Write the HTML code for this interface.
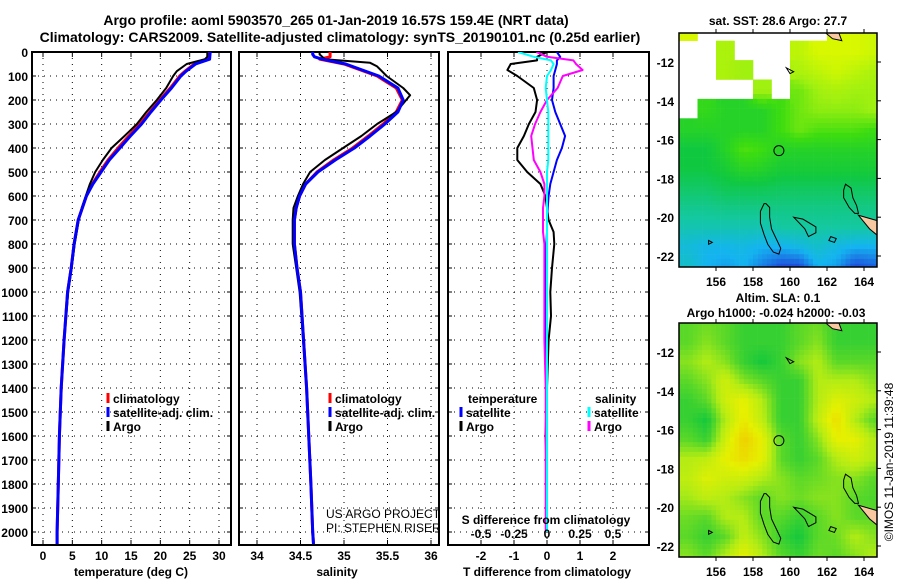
<!DOCTYPE html>
<html><head><meta charset="utf-8">
<style>
body{margin:0;background:#fff;}
svg{display:block;font-family:"Liberation Sans",Arial,sans-serif;}
.b{font-weight:bold;font-size:12px;}
</style></head>
<body>
<svg id="fig" width="900" height="580" viewBox="0 0 900 580" xmlns="http://www.w3.org/2000/svg">
<defs>
<clipPath id="c1"><rect x="32" y="52" width="199" height="493"/></clipPath>
<clipPath id="c2"><rect x="239" y="52" width="200" height="493"/></clipPath>
<clipPath id="c3"><rect x="448" y="52" width="201" height="493"/></clipPath>
<clipPath id="cm1"><rect x="679" y="33" width="198" height="234"/></clipPath>
<clipPath id="cm2"><rect x="679" y="323" width="198" height="234"/></clipPath>
</defs>
<text x="336" y="25" text-anchor="middle" font-weight="bold" font-size="14">Argo profile: aoml 5903570_265 01-Jan-2019 16.57S 159.4E (NRT data)</text>
<text x="340" y="42" text-anchor="middle" font-weight="bold" font-size="14">Climatology: CARS2009. Satellite-adjusted climatology: synTS_20190101.nc (0.25d earlier)</text>
<g id="grid"></g>
<g id="series"></g>
<g id="maps"></g>
<g id="labels"></g>
</svg>
<script>
// ---------- data ----------
const depthTicks=[0,100,200,300,400,500,600,700,800,900,1000,1100,1200,1300,1400,1500,1600,1700,1800,1900,2000];
const tempTicks=[0,5,10,15,20,25,30];
const salTicks=[34,34.5,35,35.5,36];
const salTickLabels=["34","34.5","35","35.5","36"];
const tdiffTicks=[-2,-1,0,1,2];
const sdiffTicks=[-0.5,-0.25,0,0.25,0.5];
const sdiffTickLabels=["-0.5","-0.25","0","0.25","0.5"];

const tClimDepth=[0,30,50,80,100,150,200,250,300,350,400,450,500,550,600,700,800,900,1000,1200,1400,1600,1800,2000,2050];
const tClim=[28.1,28.2,25.8,24.2,23.3,21.7,19.9,18.2,16.5,14.6,12.8,11.1,9.7,8.4,7.4,6.0,5.3,4.8,4.2,3.6,3.1,2.8,2.6,2.4,2.4];
const tSat=[28.5,28.4,26.0,24.4,23.5,21.9,20.1,18.4,16.8,14.9,13.1,11.3,9.9,8.5,7.4,6.0,5.3,4.8,4.2,3.6,3.1,2.8,2.6,2.4,2.4];
const tArgoDepth=[0,20,30,50,80,100,150,200,250,300,350,400,450,500,550,600,650,700,800,900,1000,1200,1400,1600,1800,2000];
const tArgo=[28.0,28.0,27.6,24.5,22.8,22.2,21.0,19.4,17.6,16.0,13.9,11.7,10.2,8.9,8.0,7.3,6.6,6.1,5.4,4.9,4.3,3.6,3.1,2.8,2.6,2.4];

const sClimDepth=[0,10,20,30,50,100,150,200,250,300,350,400,450,500,550,600,650,700,800,900,1000,1400,1800,2000,2050];
const sClim=[34.84,34.84,34.84,34.72,35.0,35.38,35.6,35.67,35.6,35.45,35.28,35.1,34.88,34.69,34.56,34.49,34.45,34.43,34.43,34.46,34.5,34.57,34.62,34.64,34.65];
const sSat=[34.64,34.64,34.66,34.75,35.02,35.4,35.62,35.68,35.62,35.47,35.3,35.12,34.9,34.7,34.56,34.49,34.45,34.43,34.43,34.46,34.5,34.57,34.62,34.64,34.65];
const sArgoDepth=[0,10,30,45,60,100,150,180,250,300,350,400,450,500,550,600,650,700,800,900,1000,1400,1800,2000];
const sArgo=[34.72,34.72,34.78,35.3,35.38,35.49,35.68,35.76,35.6,35.38,35.2,34.99,34.78,34.61,34.53,34.47,34.42,34.41,34.41,34.45,34.49,34.57,34.62,34.64];

const dDepth=[0,20,35,50,75,100,150,200,250,300,350,400,450,500,550,600,650,700,750,800,900,1000,1100,1200,1400,1600,1800,2000];
const dTArgo=[0.0,-0.3,-0.3,-1.1,-1.2,-0.9,-0.4,-0.3,-0.35,-0.55,-0.7,-0.9,-0.9,-0.6,-0.2,-0.05,0.0,0.05,0.2,0.22,0.15,0.1,0.12,0.05,0.0,-0.05,0.0,0.0];
const dTSat=[0.3,0.4,0.3,0.3,0.25,0.2,0.2,0.15,0.25,0.4,0.55,0.45,0.3,0.2,0.1,0.05,0.02,0.0,0.0,-0.02,-0.03,-0.03,-0.03,-0.03,-0.03,-0.03,-0.03,-0.03];
const dSSat=[-0.22,-0.1,0.03,0.05,0.03,0.0,-0.01,0.0,0.01,0.01,0.01,0.01,0.01,0.0,0.0,0.0,0.0,0.0,0.0,0.0,0.0,0.0,0.0,0.0,0.0,0.0,0.0,0.0];
const dSArgo=[-0.08,0.0,0.2,0.22,0.27,0.12,0.08,0.0,-0.05,-0.09,-0.12,-0.11,-0.1,-0.05,-0.02,-0.02,-0.03,-0.03,-0.03,-0.02,-0.02,-0.02,-0.02,-0.02,-0.01,-0.01,-0.01,-0.01];

const M=-1;
const sstGrid=[
[0.8,M,M,M,M,M,M,M,0.8,0.8,0.78],
[M,M,0.72,M,M,M,0.75,0.8,0.8,0.8,0.78],
[M,M,0.72,0.7,M,M,0.72,0.75,0.78,0.75,0.72],
[M,M,M,M,0.7,M,0.65,0.7,0.72,0.7,0.7],
[M,0.58,0.55,0.55,0.55,0.6,0.65,0.68,0.68,0.68,0.7],
[0.55,0.55,0.55,0.55,0.55,0.6,0.65,0.62,0.62,0.62,0.6],
[0.5,0.5,0.55,0.62,0.6,0.55,0.55,0.55,0.55,0.55,0.55],
[0.5,0.5,0.52,0.56,0.55,0.52,0.52,0.52,0.52,0.52,0.52],
[0.46,0.46,0.48,0.48,0.48,0.47,0.47,0.47,0.47,0.47,0.47],
[0.42,0.42,0.43,0.43,0.43,0.43,0.43,0.43,0.43,0.43,0.43],
[0.38,0.38,0.38,0.38,0.38,0.4,0.4,0.4,0.4,0.4,0.4],
[0.33,0.31,0.31,0.32,0.3,0.3,0.32,0.35,0.32,0.3,0.3],
[0.35,0.3,0.28,0.3,0.25,0.2,0.2,0.3,0.28,0.2,0.22]];
const slaGrid=[
[0.6,0.62,0.6,0.55,0.55,0.55,0.6,0.62,0.55,0.55,0.55],
[0.6,0.65,0.6,0.55,0.55,0.55,0.6,0.65,0.55,0.55,0.55],
[0.65,0.7,0.65,0.55,0.5,0.55,0.65,0.7,0.6,0.6,0.6],
[0.6,0.65,0.75,0.65,0.6,0.55,0.55,0.7,0.7,0.7,0.65],
[0.55,0.6,0.75,0.8,0.7,0.55,0.55,0.7,0.78,0.75,0.7],
[0.55,0.5,0.7,0.82,0.72,0.55,0.55,0.72,0.85,0.7,0.6],
[0.6,0.55,0.75,0.88,0.8,0.6,0.55,0.65,0.8,0.8,0.7],
[0.7,0.72,0.8,0.85,0.8,0.6,0.55,0.6,0.7,0.75,0.7],
[0.72,0.78,0.75,0.75,0.7,0.65,0.6,0.62,0.65,0.65,0.6],
[0.68,0.72,0.7,0.65,0.6,0.65,0.62,0.65,0.65,0.6,0.58],
[0.62,0.6,0.7,0.7,0.6,0.6,0.55,0.6,0.65,0.6,0.6],
[0.6,0.55,0.6,0.72,0.65,0.55,0.5,0.6,0.62,0.7,0.65],
[0.65,0.6,0.7,0.8,0.7,0.6,0.55,0.62,0.6,0.65,0.7]];
const gridLon0=154.5, gridLat0=-10.5;
const lonTicks=[156,158,160,162,164];
const latTicks=[-12,-14,-16,-18,-20,-22];
const argoLon=159.4, argoLat=-16.57;

// ---------- scales ----------
const NS="http://www.w3.org/2000/svg";
const yD=d=>52+0.24*d;
const xT=t=>43+t*(176/30);
const xS=s=>257+(s-34)*87;
const xTd=v=>547+v*33;
const xSd=v=>547+v*4*33;
const mx=lon=>716+(lon-156)*18.5;
const my1=lat=>62+(-12-lat)*19.4;
const my2=lat=>352+(-12-lat)*19.4;

function el(tag,attrs,parent,text){const e=document.createElementNS(NS,tag);for(const k in attrs)e.setAttribute(k,attrs[k]);if(text!==undefined)e.textContent=text;parent.appendChild(e);return e;}
const G=document.getElementById('grid'),S=document.getElementById('series'),MP=document.getElementById('maps'),L=document.getElementById('labels');

const panels=[
 {x0:32,x1:231,ticks:tempTicks,xf:xT,name:'temperature-panel'},
 {x0:239,x1:439,ticks:salTicks,xf:xS,name:'salinity-panel'},
 {x0:448,x1:649,ticks:tdiffTicks,xf:xTd,name:'difference-panel'}];
panels.forEach(p=>{
 const g=el('g',{},G);
 
 
 depthTicks.forEach(d=>{const l=el('line',{x1:p.x0,x2:p.x1,y1:yD(d),y2:yD(d),stroke:'#000','stroke-width':1,'stroke-dasharray':'1 5'},g);
  
  el('line',{x1:p.x0,x2:p.x0+4,y1:yD(d),y2:yD(d),stroke:'#000'},g);el('line',{x1:p.x1-4,x2:p.x1,y1:yD(d),y2:yD(d),stroke:'#000'},g);});
 p.ticks.forEach(t=>{const l=el('line',{x1:p.xf(t),x2:p.xf(t),y1:52,y2:545,stroke:'#000','stroke-dasharray':'1 5'},g);
  
  el('line',{x1:p.xf(t),x2:p.xf(t),y1:545,y2:540,stroke:'#000'},g);el('line',{x1:p.xf(t),x2:p.xf(t),y1:52,y2:57,stroke:'#000'},g);});
 const r=el('rect',{x:p.x0,y:52,width:p.x1-p.x0,height:493,fill:'none',stroke:'#000','stroke-width':2},g);
 
});
depthTicks.forEach(d=>{const t=el('text',{x:28,y:yD(d)+5,'text-anchor':'end',class:'b'},L,String(d));
 });
tempTicks.forEach(v=>{const t=el('text',{x:xT(v),y:560,'text-anchor':'middle',class:'b'},L,String(v));
 });
salTicks.forEach((v,i)=>{const t=el('text',{x:xS(v),y:560,'text-anchor':'middle',class:'b'},L,salTickLabels[i]);
 });
tdiffTicks.forEach(v=>{const t=el('text',{x:xTd(v),y:560,'text-anchor':'middle',class:'b'},L,String(v));
 });
sdiffTicks.forEach((v,i)=>{const t=el('text',{x:xSd(v),y:538,'text-anchor':'middle',class:'b'},L,sdiffTickLabels[i]);
 });

function line(depths,vals,xf,color,w,clip,name){
 const pts=depths.map((d,i)=>xf(vals[i]).toFixed(1)+','+yD(d).toFixed(1)).join(' ');
 const p=el('polyline',{points:pts,fill:'none',stroke:color,'stroke-width':w,'clip-path':'url(#'+clip+')','stroke-linejoin':'round'},S);
 
 
}
line(tClimDepth,tClim,xT,'#ff0000',3,'c1','temp-climatology-line');
line(tArgoDepth,tArgo,xT,'#000',2,'c1','temp-argo-line');
line(tClimDepth,tSat,xT,'#0000ff',3,'c1','temp-satellite-line');
line(sClimDepth,sClim,xS,'#ff0000',3,'c2','sal-climatology-line');
line(sArgoDepth,sArgo,xS,'#000',2,'c2','sal-argo-line');
line(sClimDepth,sSat,xS,'#0000ff',3,'c2','sal-satellite-line');
line(dDepth,dTArgo,xTd,'#000',2,'c3','tdiff-argo-line');
line(dDepth,dTSat,xTd,'#0000ff',2,'c3','tdiff-satellite-line');
line(dDepth,dSArgo,xSd,'#ff00ff',2,'c3','sdiff-argo-line');
line(dDepth,dSSat,xSd,'#00ffff',2,'c3','sdiff-satellite-line');

function leg(x,y,color,txt,name){
 const m=el('line',{x1:x,x2:x,y1:y-10,y2:y,stroke:color,'stroke-width':3},L);
 
 const t=el('text',{x:x+5,y:y,class:'b'},L,txt);
 
}
leg(108,403,'#ff0000','climatology','legend-climatology');
leg(108,417,'#0000ff','satellite-adj. clim.','legend-satellite');
leg(108,431,'#000','Argo','legend-argo');
leg(330,403,'#ff0000','climatology','legend-sal-climatology');
leg(330,417,'#0000ff','satellite-adj. clim.','legend-sal-satellite');
leg(330,431,'#000','Argo','legend-sal-argo');
leg(461,417,'#0000ff','satellite','legend-tdiff-satellite');
leg(461,431,'#000','Argo','legend-tdiff-argo');
leg(589,417,'#00ffff','satellite','legend-sdiff-satellite');
leg(589,431,'#ff00ff','Argo','legend-sdiff-argo');
</script>
<script>
(function(){
 const L=document.getElementById('labels');const NS="http://www.w3.org/2000/svg";
 function t(x,y,s,name,attrs){const e=document.createElementNS(NS,'text');e.setAttribute('x',x);e.setAttribute('y',y);e.setAttribute('class','b');
  for(const k in (attrs||{}))e.setAttribute(k,attrs[k]);e.textContent=s;
  
  
  L.appendChild(e);}
 t(468,403,'temperature','legend-temperature-heading');
 t(595,403,'salinity','legend-salinity-heading');
 t(131,576,'temperature (deg C)','x-axis-title-temperature',{'text-anchor':'middle'});
 t(337,576,'salinity','x-axis-title-salinity',{'text-anchor':'middle'});
 t(547,576,'T difference from climatology','x-axis-title-tdiff',{'text-anchor':'middle'});
 t(546,524,'S difference from climatology','sdiff-axis-title',{'text-anchor':'middle'});
 t(326,518,'US ARGO PROJECT','project-credit',{style:'font-weight:normal','clip-path':'url(#c2)'});
 t(326,532,'PI: STEPHEN RISER','pi-credit',{style:'font-weight:normal','clip-path':'url(#c2)'});
 t(778,25,'sat. SST: 28.6 Argo: 27.7','sst-map-title',{'text-anchor':'middle'});
 t(778,302,'Altim. SLA: 0.1','sla-map-title',{'text-anchor':'middle'});
 t(776,317,'Argo h1000: -0.024 h2000: -0.03','sla-map-subtitle',{'text-anchor':'middle'});
 t(893,462,'©IMOS 11-Jan-2019 11:39:48','imos-credit',{'text-anchor':'middle',transform:'rotate(-90 893 462)',style:'font-weight:normal'});
})();
</script>
<script>
(function(){
 const NS="http://www.w3.org/2000/svg";
 const MP=document.getElementById('maps');
 function el(tag,attrs,parent){const e=document.createElementNS(NS,tag);for(const k in attrs)e.setAttribute(k,attrs[k]);parent.appendChild(e);return e;}
 const sstStops=[[0.2,[30,80,220]],[0.3,[20,180,240]],[0.4,[20,200,160]],[0.5,[16,200,64]],[0.6,[60,220,16]],[0.7,[160,240,16]],[0.8,[216,248,0]],[0.9,[240,224,0]],[1.0,[240,160,0]]];
 const slaStops=[[0.5,[20,200,60]],[0.6,[90,216,40]],[0.7,[180,236,20]],[0.8,[230,240,0]],[0.9,[240,200,0]]];
 function cmap(v,st){if(v<=st[0][0])return st[0][1];for(let i=1;i<st.length;i++){if(v<=st[i][0]){const a=st[i-1],b=st[i],f=(v-a[0])/(b[0]-a[0]);return a[1].map((c,k)=>Math.round(c+(b[1][k]-c)*f));}}return st[st.length-1][1];}
 function val(grid,lon,lat){
  const fc=Math.max(0,Math.min(10,lon-gridLon0)),fr=Math.max(0,Math.min(12,gridLat0-lat));
  const nc=Math.round(fc),nr=Math.round(fr);
  if(grid[nr][nc]===M)return M;
  const c0=Math.floor(fc),r0=Math.floor(fr),c1=Math.min(10,c0+1),r1=Math.min(12,r0+1),dx=fc-c0,dy=fr-r0;
  const g=(r,c)=>grid[r][c]===M?grid[nr][nc]:grid[r][c];
  return g(r0,c0)*(1-dx)*(1-dy)+g(r0,c1)*dx*(1-dy)+g(r1,c0)*(1-dx)*dy+g(r1,c1)*dx*dy;
 }
 function drawMap(grid,stops,my,yTop,clip,name){
  const g=el('g',{'clip-path':'url(#'+clip+')'},MP);
  
  
  el('rect',{x:679,y:yTop,width:198,height:234,fill:'#fff'},g);
  for(let lat=-10.4;lat>-22.8;lat-=0.25){for(let lon=154.0;lon<164.8;lon+=0.25){
   const v=val(grid,lon+0.125,lat-0.125);if(v===M)continue;
   const c=cmap(v,stops);
   el('rect',{x:mx(lon).toFixed(1),y:my(lat).toFixed(1),width:4.9,height:5.2,fill:'rgb('+c.join(',')+')'},g);}}
  const land=[[[161.8,-10.4],[162.6,-10.4],[162.8,-10.9],[162.3,-10.8]],[[163.7,-19.9],[164.8,-20.2],[164.8,-21.0],[164.3,-20.6]]];
  land.forEach(p=>{const e=el('polygon',{points:p.map(q=>mx(q[0])+','+my(q[1])).join(' '),fill:'#f8c8a0',stroke:'#000','stroke-width':1},g);
   });
  const reefs=[
   [[158.7,-19.3],[158.9,-19.5],[158.9,-20.0],[159.0,-20.6],[159.3,-21.2],[159.5,-21.6],[159.4,-21.9],[159.1,-21.8],[158.8,-21.4],[158.6,-20.9],[158.4,-20.3],[158.4,-19.7],[158.6,-19.3]],
   [[160.2,-20.0],[160.7,-20.1],[161.4,-20.5],[161.4,-20.8],[161.0,-21.0],[160.8,-20.6],[160.4,-20.2]],
   [[163.0,-18.3],[163.3,-18.5],[163.4,-19.0],[163.6,-19.4],[163.7,-19.8],[163.5,-19.8],[163.2,-19.5],[162.9,-19.0],[162.9,-18.6]],
   [[162.2,-21.0],[162.5,-21.1],[162.4,-21.3],[162.1,-21.2]],
   [[155.6,-21.2],[155.8,-21.3],[155.6,-21.4]],
   [[159.8,-12.3],[160.2,-12.5],[160.0,-12.6]]];
  reefs.forEach(p=>{const e=el('polygon',{points:p.map(q=>mx(q[0])+','+my(q[1])).join(' '),fill:'none',stroke:'#000','stroke-width':1},g);
   });
  const c=el('circle',{cx:mx(argoLon),cy:my(argoLat),r:5,fill:'none',stroke:'#000','stroke-width':1},g);
  
  const fr=el('rect',{x:679,y:yTop,width:198,height:234,fill:'none',stroke:'#000','stroke-width':1.5},MP);
  
  lonTicks.forEach(v=>{
   el('line',{x1:mx(v),x2:mx(v),y1:yTop+234,y2:yTop+238,stroke:'#000'},MP);
   el('line',{x1:mx(v),x2:mx(v),y1:yTop,y2:yTop-4,stroke:'#000'},MP);
   const t=el('text',{x:mx(v),y:yTop+253,'text-anchor':'middle',class:'b'},MP);t.textContent=String(v);
   });
  latTicks.forEach(v=>{
   el('line',{x1:877,x2:881,y1:my(v),y2:my(v),stroke:'#000'},MP);
   const t=el('text',{x:674,y:my(v)+5,'text-anchor':'end',class:'b'},MP);t.textContent=String(v);
   });
 }
 drawMap(sstGrid,sstStops,my1,33,'cm1','sst-map');
 drawMap(slaGrid,slaStops,my2,323,'cm2','sla-map');
})();
</script>
</body></html>
